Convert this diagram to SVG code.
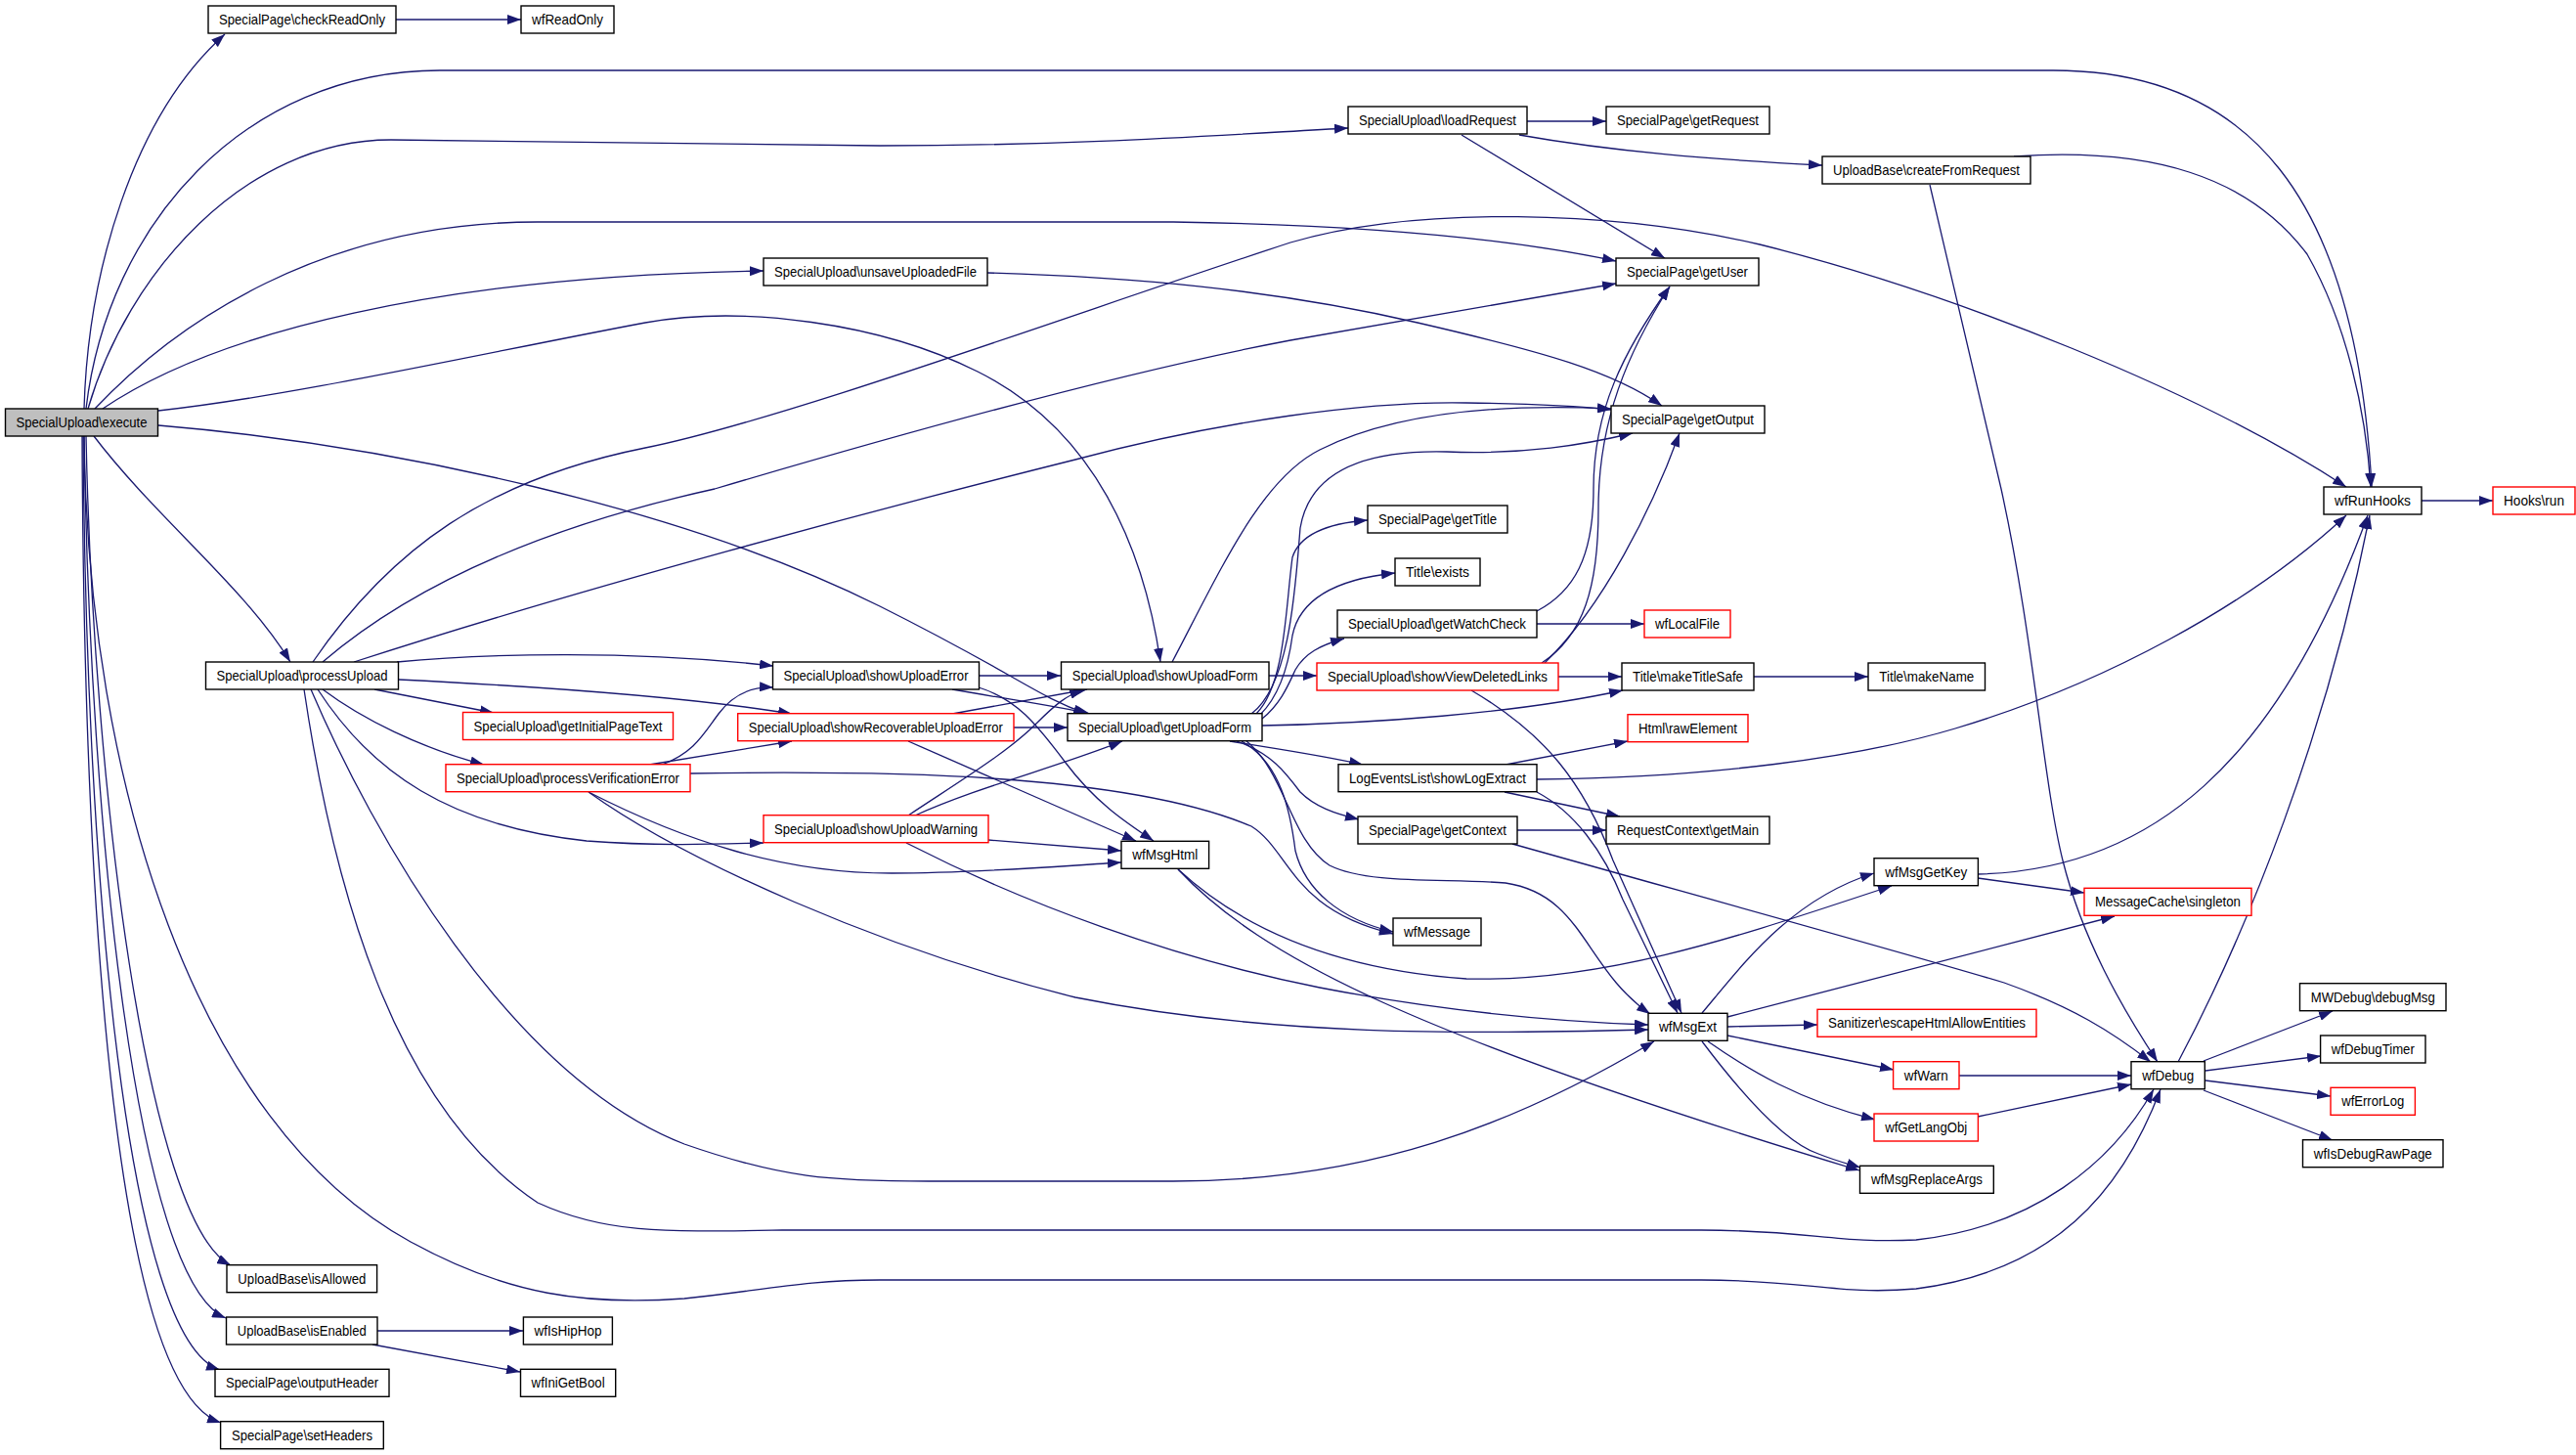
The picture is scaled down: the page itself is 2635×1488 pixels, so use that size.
<svg xmlns="http://www.w3.org/2000/svg" width="2635" height="1488" viewBox="0 0 2635 1488">
<defs>
<marker id="a" markerUnits="userSpaceOnUse" markerWidth="14" markerHeight="10" refX="14" refY="5" orient="auto"><path d="M0,0 L14,5 L0,10 z" fill="#191970"/></marker>
</defs>
<style>
.n rect{fill:#fff;stroke:#000;stroke-width:1.4}
.r rect{stroke:#ff0000}
.g rect{fill:#bfbfbf}
text{font-family:"Liberation Sans",Arial,Helvetica,sans-serif;font-size:14.5px;text-anchor:middle;fill:#000}
#edges path{fill:none;stroke:#191970;stroke-width:1.3;marker-end:url(#a)}
</style>
<rect width="2635" height="1488" fill="#fff"/>
<g id="edges">
<path d="M86,418 C90,280 135,120 230,35"/>
<path d="M88,418 C110,230 250,72 450,72 L2100,72 C2300,72 2410,200 2426,498"/>
<path d="M90,418 C130,280 250,143 400,143 L900,149 C1100,149 1250,138 1379,131"/>
<path d="M97,418 C180,330 330,227 550,227 L1200,227 C1400,230 1550,245 1653,267"/>
<path d="M105,418 C220,340 450,282 781,277"/>
<path d="M162,420 C300,405 500,360 660,330 C760,312 900,330 1000,380 C1120,440 1170,560 1187,677"/>
<path d="M162,435 C400,455 700,520 900,620 C1040,690 1060,712 1112,730"/>
<path d="M96,446 C160,530 250,600 297,677"/>
<path d="M86,446 C90,800 200,1150 420,1270 C520,1325 600,1335 700,1328 C780,1320 820,1309 900,1309 L1740,1309 C1850,1309 1880,1325 1960,1318 C2100,1300 2170,1220 2210,1114"/>
<path d="M88,446 C95,800 150,1250 236,1294"/>
<path d="M86,446 C92,850 140,1310 231,1348"/>
<path d="M85,446 C88,900 130,1370 225,1401"/>
<path d="M84,446 C86,950 120,1420 226,1455"/>
<path d="M406,677 C500,668 650,665 791,681"/>
<path d="M408,695 C550,702 700,712 810,730"/>
<path d="M383,705 L505,729"/>
<path d="M330,705 C370,735 430,765 495,782"/>
<path d="M325,705 C380,790 460,845 600,860 C680,866 740,863 781,862"/>
<path d="M318,705 C380,850 520,1100 700,1170 C800,1205 850,1208 950,1208 L1200,1208 C1400,1208 1550,1150 1692,1065"/>
<path d="M311,705 C340,900 400,1130 550,1230 C620,1262 680,1260 800,1258 L1740,1258 C1850,1258 1880,1272 1960,1268 C2080,1255 2160,1190 2203,1114"/>
<path d="M320,677 C400,560 500,490 660,458 C800,430 1100,320 1320,248 C1450,210 1650,215 1800,250 C2000,300 2250,400 2400,498"/>
<path d="M330,677 C420,600 550,540 731,500 C900,450 1150,380 1320,348 L1653,290"/>
<path d="M362,677 C600,600 900,520 1100,470 C1250,430 1400,410 1500,412 C1570,413 1620,416 1648,419"/>
<path d="M677,782 C710,770 720,750 735,730 C750,710 770,702 791,703"/>
<path d="M664,782 L810,758"/>
<path d="M706,791 C900,788 1150,790 1280,845 C1320,870 1320,930 1425,955"/>
<path d="M602,810 C700,860 800,893 912,893 C1000,893 1080,886 1147,882"/>
<path d="M602,810 C700,880 900,970 1100,1020 C1300,1060 1500,1058 1686,1053"/>
<path d="M927,862 C1050,925 1200,980 1350,1010 C1480,1035 1600,1045 1686,1048"/>
<path d="M1011,859 L1147,870"/>
<path d="M929,834 C980,800 1030,770 1060,740 C1080,720 1090,712 1108,705"/>
<path d="M936,834 C1000,805 1080,785 1148,758"/>
<path d="M1001,691 L1085,691"/>
<path d="M974,705 C1030,715 1080,722 1115,730"/>
<path d="M1001,703 C1040,715 1060,740 1090,780 C1120,820 1150,840 1180,860"/>
<path d="M974,730 L1112,705"/>
<path d="M1037,744 L1092,744"/>
<path d="M929,758 L1162,860"/>
<path d="M1199,677 C1250,580 1290,490 1350,460 C1420,425 1520,412 1648,418"/>
<path d="M1298,691 L1347,691"/>
<path d="M1280,730 C1320,700 1325,600 1330,540 C1340,480 1400,460 1480,462 C1560,465 1620,455 1670,443"/>
<path d="M1285,730 C1315,700 1315,620 1322,570 C1330,545 1360,535 1399,532"/>
<path d="M1289,731 C1310,710 1318,680 1322,650 C1330,610 1370,592 1427,586"/>
<path d="M1291,735 C1310,720 1318,700 1325,685 C1335,668 1350,660 1375,653"/>
<path d="M1291,742 C1400,740 1550,730 1660,706"/>
<path d="M1258,758 C1300,765 1350,772 1394,782"/>
<path d="M1265,758 C1300,770 1315,790 1330,810 C1345,825 1365,832 1390,838"/>
<path d="M1270,758 C1310,780 1320,830 1325,870 C1335,910 1370,940 1425,953"/>
<path d="M1275,758 C1315,790 1320,860 1360,885 C1400,905 1480,898 1540,903 C1620,915 1620,990 1688,1037"/>
<path d="M1572,638 L1682,638"/>
<path d="M1572,625 C1610,605 1630,570 1630,500 C1630,420 1660,360 1708,293"/>
<path d="M1577,678 C1620,650 1635,600 1635,520 C1635,430 1665,360 1708,293"/>
<path d="M1580,678 C1640,620 1690,520 1718,443"/>
<path d="M1594,692 L1659,692"/>
<path d="M1505,706 C1580,750 1620,800 1650,880 L1720,1036"/>
<path d="M1794,692 L1911,692"/>
<path d="M1540,782 L1665,758"/>
<path d="M1572,797 C1750,795 1900,775 2000,745 C2150,700 2300,620 2400,527"/>
<path d="M1539,810 L1657,835"/>
<path d="M1572,810 C1610,830 1640,870 1660,920 L1716,1036"/>
<path d="M1552,849 L1643,849"/>
<path d="M1547,863 C1750,920 1950,975 2050,1005 C2120,1030 2160,1055 2200,1086"/>
<path d="M1205,889 C1260,940 1350,990 1500,1001 C1650,1005 1800,950 1935,906"/>
<path d="M1205,889 C1290,980 1450,1060 1902,1197"/>
<path d="M1741,1036 C1780,990 1830,920 1917,893"/>
<path d="M1767,1040 L2163,937"/>
<path d="M1767,1050 L1859,1048"/>
<path d="M1767,1059 L1937,1094"/>
<path d="M1747,1065 C1790,1095 1840,1125 1918,1145"/>
<path d="M1741,1065 C1790,1130 1830,1170 1860,1180 C1880,1188 1890,1190 1903,1194"/>
<path d="M2004,1100 L2180,1100"/>
<path d="M2023,1142 L2180,1109"/>
<path d="M2254,1085 L2386,1034"/>
<path d="M2256,1095 L2374,1080"/>
<path d="M2256,1105 L2384,1121"/>
<path d="M2254,1115 L2386,1166"/>
<path d="M2228,1086 C2300,950 2380,750 2424,527"/>
<path d="M2023,894 C2200,890 2330,780 2422,527"/>
<path d="M2023,898 L2132,913"/>
<path d="M2477,512 L2550,512"/>
<path d="M1562,124 L1643,124"/>
<path d="M1554,138 C1650,155 1750,163 1864,169"/>
<path d="M1495,138 L1703,264"/>
<path d="M2060,160 C2200,150 2300,180 2360,260 C2400,330 2420,420 2425,498"/>
<path d="M1974,189 L2047,500 C2080,650 2090,800 2110,880 C2130,960 2170,1030 2207,1086"/>
<path d="M1010,279 C1150,283 1300,295 1450,330 C1580,360 1650,380 1700,415"/>
<path d="M386,1361 L535,1361"/>
<path d="M381,1375 L532,1403"/>
<path d="M405,20 L533,20"/>
</g>
<g id="execute" class="n g"><rect x="5.5" y="418" width="156" height="28"/><text x="83.5" y="437" textLength="134" lengthAdjust="spacingAndGlyphs">SpecialUpload\execute</text></g>
<g id="checkReadOnly" class="n"><rect x="213" y="6" width="192" height="28"/><text x="309" y="25" textLength="170" lengthAdjust="spacingAndGlyphs">SpecialPage\checkReadOnly</text></g>
<g id="wfReadOnly" class="n"><rect x="533" y="6" width="95" height="28"/><text x="580.5" y="25" textLength="73" lengthAdjust="spacingAndGlyphs">wfReadOnly</text></g>
<g id="loadRequest" class="n"><rect x="1379" y="109" width="183" height="28"/><text x="1470.5" y="128" textLength="161" lengthAdjust="spacingAndGlyphs">SpecialUpload\loadRequest</text></g>
<g id="getRequest" class="n"><rect x="1643" y="109" width="167" height="28"/><text x="1726.5" y="128" textLength="145" lengthAdjust="spacingAndGlyphs">SpecialPage\getRequest</text></g>
<g id="createFromRequest" class="n"><rect x="1864" y="160" width="213" height="28"/><text x="1970.5" y="179" textLength="191" lengthAdjust="spacingAndGlyphs">UploadBase\createFromRequest</text></g>
<g id="getUser" class="n"><rect x="1653" y="264" width="146" height="28"/><text x="1726" y="283" textLength="124" lengthAdjust="spacingAndGlyphs">SpecialPage\getUser</text></g>
<g id="unsaveUploadedFile" class="n"><rect x="781" y="264" width="229" height="28"/><text x="895.5" y="283" textLength="207" lengthAdjust="spacingAndGlyphs">SpecialUpload\unsaveUploadedFile</text></g>
<g id="getOutput" class="n"><rect x="1648" y="415" width="157" height="28"/><text x="1726.5" y="434" textLength="135" lengthAdjust="spacingAndGlyphs">SpecialPage\getOutput</text></g>
<g id="wfRunHooks" class="n"><rect x="2377" y="498" width="100" height="28"/><text x="2427" y="517" textLength="78" lengthAdjust="spacingAndGlyphs">wfRunHooks</text></g>
<g id="HooksRun" class="n r"><rect x="2550" y="498" width="84" height="28"/><text x="2592" y="517" textLength="62" lengthAdjust="spacingAndGlyphs">Hooks\run</text></g>
<g id="getTitle" class="n"><rect x="1399" y="517" width="143" height="28"/><text x="1470.5" y="536" textLength="121" lengthAdjust="spacingAndGlyphs">SpecialPage\getTitle</text></g>
<g id="TitleExists" class="n"><rect x="1427" y="571" width="87" height="28"/><text x="1470.5" y="590" textLength="65" lengthAdjust="spacingAndGlyphs">Title\exists</text></g>
<g id="getWatchCheck" class="n"><rect x="1368" y="624" width="204" height="28"/><text x="1470" y="643" textLength="182" lengthAdjust="spacingAndGlyphs">SpecialUpload\getWatchCheck</text></g>
<g id="wfLocalFile" class="n r"><rect x="1682" y="624" width="88" height="28"/><text x="1726" y="643" textLength="66" lengthAdjust="spacingAndGlyphs">wfLocalFile</text></g>
<g id="processUpload" class="n"><rect x="210.5" y="677" width="197" height="28"/><text x="309" y="696" textLength="175" lengthAdjust="spacingAndGlyphs">SpecialUpload\processUpload</text></g>
<g id="showUploadError" class="n"><rect x="790.5" y="677" width="211" height="28"/><text x="896" y="696" textLength="189" lengthAdjust="spacingAndGlyphs">SpecialUpload\showUploadError</text></g>
<g id="showUploadForm" class="n"><rect x="1085.5" y="677" width="212.5" height="28"/><text x="1191.75" y="696" textLength="190" lengthAdjust="spacingAndGlyphs">SpecialUpload\showUploadForm</text></g>
<g id="showViewDeletedLinks" class="n r"><rect x="1347" y="678" width="247" height="28"/><text x="1470.5" y="697" textLength="225" lengthAdjust="spacingAndGlyphs">SpecialUpload\showViewDeletedLinks</text></g>
<g id="makeTitleSafe" class="n"><rect x="1659" y="678" width="135" height="28"/><text x="1726.5" y="697" textLength="113" lengthAdjust="spacingAndGlyphs">Title\makeTitleSafe</text></g>
<g id="makeName" class="n"><rect x="1911" y="678" width="119.5" height="28"/><text x="1970.75" y="697" textLength="97" lengthAdjust="spacingAndGlyphs">Title\makeName</text></g>
<g id="getInitialPageText" class="n r"><rect x="473.5" y="728.5" width="215" height="28"/><text x="581" y="747.5" textLength="193" lengthAdjust="spacingAndGlyphs">SpecialUpload\getInitialPageText</text></g>
<g id="showRecoverableUploadError" class="n r"><rect x="754.7" y="729.7" width="282.3" height="28"/><text x="895.85" y="748.7" textLength="260" lengthAdjust="spacingAndGlyphs">SpecialUpload\showRecoverableUploadError</text></g>
<g id="getUploadForm" class="n"><rect x="1092" y="729.7" width="199" height="28"/><text x="1191.5" y="748.7" textLength="177" lengthAdjust="spacingAndGlyphs">SpecialUpload\getUploadForm</text></g>
<g id="rawElement" class="n r"><rect x="1665" y="730.7" width="123" height="28"/><text x="1726.5" y="749.7" textLength="101" lengthAdjust="spacingAndGlyphs">Html\rawElement</text></g>
<g id="processVerificationError" class="n r"><rect x="456" y="781.7" width="250" height="28"/><text x="581" y="800.7" textLength="228" lengthAdjust="spacingAndGlyphs">SpecialUpload\processVerificationError</text></g>
<g id="showLogExtract" class="n"><rect x="1369" y="781.7" width="203" height="28"/><text x="1470.5" y="800.7" textLength="181" lengthAdjust="spacingAndGlyphs">LogEventsList\showLogExtract</text></g>
<g id="showUploadWarning" class="n r"><rect x="781" y="833.7" width="230" height="28"/><text x="896" y="852.7" textLength="208" lengthAdjust="spacingAndGlyphs">SpecialUpload\showUploadWarning</text></g>
<g id="getContext" class="n"><rect x="1389" y="835" width="163" height="28"/><text x="1470.5" y="854" textLength="141" lengthAdjust="spacingAndGlyphs">SpecialPage\getContext</text></g>
<g id="getMain" class="n"><rect x="1643" y="835" width="167" height="28"/><text x="1726.5" y="854" textLength="145" lengthAdjust="spacingAndGlyphs">RequestContext\getMain</text></g>
<g id="wfMsgHtml" class="n"><rect x="1147" y="860.3" width="89.6" height="28"/><text x="1191.8" y="879.3" textLength="67" lengthAdjust="spacingAndGlyphs">wfMsgHtml</text></g>
<g id="wfMsgGetKey" class="n"><rect x="1917" y="877.7" width="106.4" height="28"/><text x="1970.2" y="896.7" textLength="84" lengthAdjust="spacingAndGlyphs">wfMsgGetKey</text></g>
<g id="MessageCacheSingleton" class="n r"><rect x="2132" y="908.3" width="171" height="28"/><text x="2217.5" y="927.3" textLength="149" lengthAdjust="spacingAndGlyphs">MessageCache\singleton</text></g>
<g id="wfMessage" class="n"><rect x="1425" y="939" width="90" height="28"/><text x="1470" y="958" textLength="68" lengthAdjust="spacingAndGlyphs">wfMessage</text></g>
<g id="debugMsg" class="n"><rect x="2352.5" y="1005.7" width="149.5" height="28"/><text x="2427.25" y="1024.7" textLength="127" lengthAdjust="spacingAndGlyphs">MWDebug\debugMsg</text></g>
<g id="Sanitizer" class="n r"><rect x="1859" y="1032.3" width="224" height="28"/><text x="1971" y="1051.3" textLength="202" lengthAdjust="spacingAndGlyphs">Sanitizer\escapeHtmlAllowEntities</text></g>
<g id="wfMsgExt" class="n"><rect x="1686" y="1036.3" width="81" height="28"/><text x="1726.5" y="1055.3" textLength="59" lengthAdjust="spacingAndGlyphs">wfMsgExt</text></g>
<g id="wfDebugTimer" class="n"><rect x="2373.6" y="1059" width="107.4" height="28"/><text x="2427.3" y="1078" textLength="85" lengthAdjust="spacingAndGlyphs">wfDebugTimer</text></g>
<g id="wfWarn" class="n r"><rect x="1936.6" y="1085.7" width="67.4" height="28"/><text x="1970.3" y="1104.7" textLength="45" lengthAdjust="spacingAndGlyphs">wfWarn</text></g>
<g id="wfDebug" class="n"><rect x="2180" y="1085.7" width="75.3" height="28"/><text x="2217.65" y="1104.7" textLength="53" lengthAdjust="spacingAndGlyphs">wfDebug</text></g>
<g id="wfErrorLog" class="n r"><rect x="2384" y="1112.3" width="86.4" height="28"/><text x="2427.2" y="1131.3" textLength="64" lengthAdjust="spacingAndGlyphs">wfErrorLog</text></g>
<g id="wfGetLangObj" class="n r"><rect x="1917" y="1139" width="106.4" height="28"/><text x="1970.2" y="1158" textLength="84" lengthAdjust="spacingAndGlyphs">wfGetLangObj</text></g>
<g id="wfIsDebugRawPage" class="n"><rect x="2355.5" y="1165.7" width="143.5" height="28"/><text x="2427.25" y="1184.7" textLength="121" lengthAdjust="spacingAndGlyphs">wfIsDebugRawPage</text></g>
<g id="wfMsgReplaceArgs" class="n"><rect x="1902.5" y="1192.3" width="136.8" height="28"/><text x="1970.9" y="1211.3" textLength="114" lengthAdjust="spacingAndGlyphs">wfMsgReplaceArgs</text></g>
<g id="isAllowed" class="n"><rect x="232" y="1293.7" width="153.6" height="28"/><text x="308.8" y="1312.7" textLength="131" lengthAdjust="spacingAndGlyphs">UploadBase\isAllowed</text></g>
<g id="isEnabled" class="n"><rect x="231.5" y="1347" width="154.5" height="28"/><text x="308.75" y="1366" textLength="132" lengthAdjust="spacingAndGlyphs">UploadBase\isEnabled</text></g>
<g id="outputHeader" class="n"><rect x="220" y="1400.3" width="178" height="28"/><text x="309" y="1419.3" textLength="156" lengthAdjust="spacingAndGlyphs">SpecialPage\outputHeader</text></g>
<g id="setHeaders" class="n"><rect x="225.6" y="1453.7" width="166.7" height="28"/><text x="308.95" y="1472.7" textLength="144" lengthAdjust="spacingAndGlyphs">SpecialPage\setHeaders</text></g>
<g id="wfIsHipHop" class="n"><rect x="535.4" y="1347" width="91" height="28"/><text x="580.9" y="1366" textLength="69" lengthAdjust="spacingAndGlyphs">wfIsHipHop</text></g>
<g id="wfIniGetBool" class="n"><rect x="532.5" y="1400.3" width="97.2" height="28"/><text x="581.1" y="1419.3" textLength="75" lengthAdjust="spacingAndGlyphs">wfIniGetBool</text></g>
</svg>
